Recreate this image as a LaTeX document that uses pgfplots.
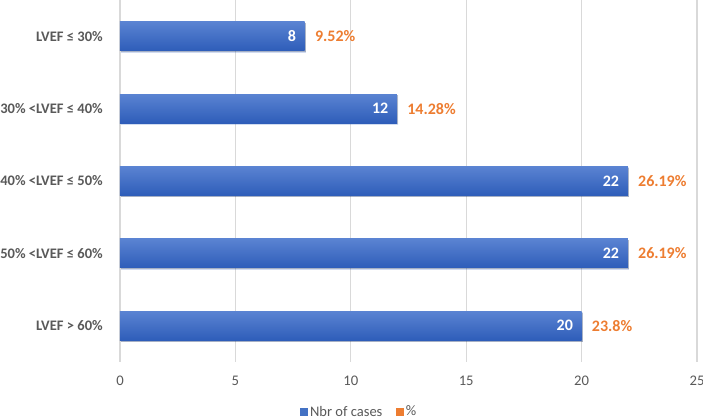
\documentclass[border=0pt]{standalone}
\usepackage{pgfplots}
\pgfplotsset{compat=1.18}
\usetikzlibrary{shadows}
\usepackage{fontspec}
\setmainfont{Carlito}
\definecolor{txtgray}{HTML}{595959}
\definecolor{gridgray}{HTML}{D9D9D9}
\definecolor{barblue}{HTML}{4472C4}
\definecolor{bartop}{HTML}{5A83D2}
\definecolor{barbot}{HTML}{2E5DB9}
\definecolor{pctorange}{HTML}{ED7D31}

\begin{document}
\begin{tikzpicture}
\path[use as bounding box] (-90pt,-42pt) rectangle (437.25pt,271.5pt);
\begin{axis}[
  at={(0,0)}, anchor=south west,
  scale only axis,
  width=432.75pt, height=271.5pt,
  xbar, bar shift=0pt,
  bar width=21.75pt,
  xmin=0, xmax=25,
  ymin=-0.5, ymax=4.5,
  y dir=reverse,
  xtick={0,5,...,25},
  ytick={0,1,2,3,4},
  yticklabels={LVEF ≤ 30\%, 30\% <LVEF ≤ 40\%, 40\% <LVEF ≤ 50\%, 50\% <LVEF ≤ 60\%, LVEF > 60\%},
  xmajorgrids,
  grid style={gridgray, line width=0.9pt},
  axis line style={draw=none},
  major tick length=0pt,
  /pgf/number format/assume math mode=true,
  xticklabel style={font=\fontsize{11}{13}\selectfont, text=txtgray, anchor=center, yshift=-14.25pt},
  yticklabel style={font=\bfseries\fontsize{10.9}{12}\selectfont, text=txtgray, anchor=east, inner sep=0pt, xshift=-12.75pt},
  legend style={draw=none, at={(axis description cs:0.415,-0.138)}, anchor=center,
    font=\fontsize{10.9}{12}\selectfont, text=txtgray, legend columns=2,
    /tikz/every even column/.append style={column sep=8pt}},
  blue bar/.style={draw=none, top color=bartop, bottom color=barbot,
    drop shadow={shadow xshift=0.9pt, shadow yshift=-1pt, opacity=0.22, fill=black},
    point meta=x,
    nodes near coords={\pgfmathprintnumber{\pgfplotspointmeta}},
    nodes near coords align={anchor=east},
    every node near coord/.append style={anchor=east, xshift=-3pt, text=white, font=\bfseries\fontsize{12}{14}\selectfont}},
]
\addlegendimage{legend image code/.code={\fill[barblue] (0pt,-2.6pt) rectangle (5.2pt,2.6pt);}}
\addlegendentry{Nbr of cases}
\addlegendimage{legend image code/.code={\fill[pctorange] (0pt,-2.6pt) rectangle (5.2pt,2.6pt);}}
\addlegendentry{\%}
% Nbr of cases
\addplot[blue bar, forget plot] coordinates {(8,0)};
\addplot[blue bar, forget plot] coordinates {(12,1)};
\addplot[blue bar, forget plot] coordinates {(22,2)};
\addplot[blue bar, forget plot] coordinates {(22,3)};
\addplot[blue bar, forget plot] coordinates {(20,4)};
% % labels placed at the end of each bar
\addplot[forget plot, only marks, mark=none, draw=none,
  point meta=explicit symbolic,
  nodes near coords,
  nodes near coords align={anchor=west},
  every node near coord/.append style={anchor=west, xshift=4.25pt, text=pctorange, font=\bfseries\fontsize{12}{14}\selectfont}]
  table[meta=label] {
x y label
8 0 9.52\%
12 1 14.28\%
22 2 26.19\%
22 3 26.19\%
20 4 23.8\%
};
\end{axis}
\end{tikzpicture}
\end{document}
